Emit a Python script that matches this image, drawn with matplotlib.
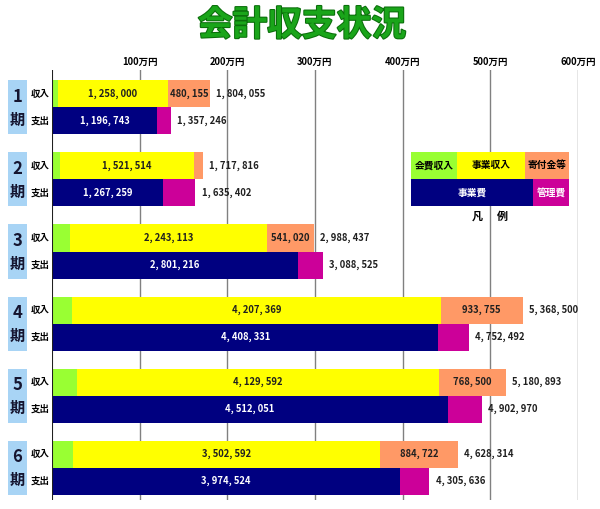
import numpy as np
import matplotlib.pyplot as plt
import matplotlib.patheffects as pe
from matplotlib.patches import Rectangle
from matplotlib.transforms import blended_transform_factory

plt.rcParams['font.family'] = ['Noto Sans CJK JP', 'DejaVu Sans']

# Data
periods = ['1', '2', '3', '4', '5', '6']
kaihi = [65900, 94000, 204304, 227376, 282801, 241000]          # 会費収入
jigyo_in = [1258000, 1521514, 2243113, 4207369, 4129592, 3502592]  # 事業収入
kifu = [480155, 102302, 541020, 933755, 768500, 884722]           # 寄付金等
income_total = [1804055, 1717816, 2988437, 5368500, 5180893, 4628314]
jigyo_out = [1196743, 1267259, 2801216, 4408331, 4512051, 3974524]  # 事業費
kanri = [160503, 368143, 287309, 344161, 390919, 331112]           # 管理費
expense_total = [1357246, 1635402, 3088525, 4752492, 4902970, 4305636]
tick_vals = [1000000, 2000000, 3000000, 4000000, 5000000, 6000000]
tick_labels = ['100万円', '200万円', '300万円', '400万円', '500万円', '600万円']

c_green = '#99ff33'
c_yellow = '#ffff00'
c_orange = '#ff9966'
c_navy = '#000080'
c_mag = '#cc0099'

W, H = 600, 509
fig = plt.figure(figsize=(6.0, 5.09), dpi=100)

# main plot area: x 52..578 px, y 70..500 px
ax = fig.add_axes([52 / W, 1 - 500 / H, 526 / W, 430 / H])
ax.set_xlim(0, 6000000)
ax.set_ylim(5.45, -0.52)
ax.axis('off')

for v, lab in zip(tick_vals, tick_labels):
    ax.axvline(v, color='#808080', lw=1, zorder=0)
    ax.text(v, -0.56, lab, ha='center', va='bottom',
            fontsize=6.8, fontweight='bold')
ax.axvline(0, color='#202020', lw=1.5, zorder=3)

bh = 0.375
y = np.arange(len(periods))
yi = y - bh / 2
ye = y + bh / 2

def fmt(v):
    return f'{v:,}'.replace(',', ', ')

num_kw = dict(fontsize=6.8, va='center', fontweight='bold', color='#202020')

ax.barh(yi, kaihi, height=bh, color=c_green, zorder=2)
ax.barh(yi, jigyo_in, left=kaihi, height=bh, color=c_yellow, zorder=2)
left2 = np.array(kaihi) + np.array(jigyo_in)
ax.barh(yi, kifu, left=left2, height=bh, color=c_orange, zorder=2)
ax.barh(ye, jigyo_out, height=bh, color=c_navy, zorder=2)
ax.barh(ye, kanri, left=jigyo_out, height=bh, color=c_mag, zorder=2)

for i in range(len(periods)):
    ax.text(kaihi[i] + jigyo_in[i] / 2, yi[i], fmt(jigyo_in[i]), ha='center', **num_kw)
    if kifu[i] > 300000:
        ax.text(left2[i] + kifu[i] / 2, yi[i], fmt(kifu[i]), ha='center', **num_kw)
    ax.text(income_total[i] + 70000, yi[i], fmt(income_total[i]), ha='left', **num_kw)
    ax.text(jigyo_out[i] / 2, ye[i], fmt(jigyo_out[i]), ha='center',
            fontsize=6.8, va='center', fontweight='bold', color='white')
    ax.text(expense_total[i] + 70000, ye[i], fmt(expense_total[i]), ha='left', **num_kw)

# period labels on the left
tr = blended_transform_factory(fig.transFigure, ax.transData)
for i, p in enumerate(periods):
    ax.add_patch(Rectangle((8 / W, i - bh), 19 / W, 2 * bh, transform=tr,
                           facecolor='#a8d4f5', edgecolor='none', clip_on=False))
    ax.text(17.5 / W, i - 0.15, p, transform=tr, ha='center', va='center',
            fontsize=12, fontweight='bold', color='#151530')
    ax.text(17.5 / W, i + 0.17, '期', transform=tr, ha='center', va='center',
            fontsize=11, fontweight='bold', color='#151530')
    ax.text(40 / W, yi[i], '収入', transform=tr, ha='center', va='center',
            fontsize=6.8, fontweight='bold')
    ax.text(40 / W, ye[i], '支出', transform=tr, ha='center', va='center',
            fontsize=6.8, fontweight='bold')

# legend box
lg = fig.add_axes([411 / W, 1 - 206 / H, 158 / W, 54 / H], zorder=5)
lg.set_xlim(0, 158)
lg.set_ylim(0, 54)
lg.axis('off')
top_row = [('会費収入', c_green, 46, 'black'), ('事業収入', c_yellow, 68, 'black'),
           ('寄付金等', c_orange, 44, 'black')]
bot_row = [('事業費', c_navy, 122, 'white'), ('管理費', c_mag, 36, 'white')]
for row, y0 in [(top_row, 27), (bot_row, 0)]:
    x0 = 0
    for name, col, w, tc in row:
        lg.add_patch(Rectangle((x0, y0), w, 27, facecolor=col, edgecolor='none'))
        lg.text(x0 + w / 2, y0 + 13.5, name, ha='center', va='center',
                fontsize=7, fontweight='bold', color=tc)
        x0 += w
fig.text(477 / W, 1 - 216 / H, '凡', ha='center', va='center',
         fontsize=8, fontweight='bold')
fig.text(502 / W, 1 - 216 / H, '例', ha='center', va='center',
         fontsize=8, fontweight='bold')

# title
fig.text(302 / W, 1 - 25 / H, '会計収支状況', ha='center', va='center',
         fontsize=25, fontweight='bold', color='#1aa51a',
         path_effects=[pe.withStroke(linewidth=1.5, foreground='#0b6e0b')])

fig.savefig('out.png', dpi=100, facecolor='white')
